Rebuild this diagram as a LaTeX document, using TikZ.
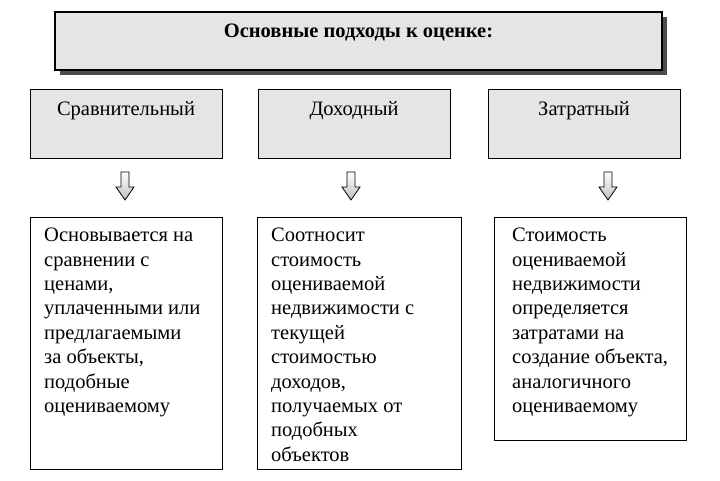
\documentclass[tikz,border=0pt]{standalone}
\usepackage{fontspec}
\setmainfont{Liberation Serif}
\begin{document}
\begin{tikzpicture}[x=1pt,y=-1pt,
  graybox/.style={draw=black,fill=black!10,line width=0.8pt},
  txtbox/.style={draw=black,line width=1pt},
  lbl/.style={font=\fontsize{20.5}{24}\selectfont},
  body/.style={font=\fontsize{20.5}{24.4}\selectfont,align=left,anchor=north west,inner sep=0pt}]
\useasboundingbox (0,0) rectangle (720,480);
% title
\fill[black!70] (60,17) rectangle (667,75);
\draw[graybox,line width=1.2pt] (55,12) rectangle (662,70);
\node[font=\bfseries\fontsize{20.5}{24}\selectfont] (title) at (358.5,32) {Основные подходы к оценке:};
% gray boxes
\foreach \n/\a/\b/\t in {g1/30/222/Сравнительный,g2/258/450/Доходный,g3/488/680/Затратный}{
  \draw[graybox] (\a,89) rectangle (\b,158);
  \node[lbl] (\n) at ({(\a+\b)/2},111) {\t};
}
% arrows
\foreach \n/\c in {a1/125,a2/351,a3/608}{
  \coordinate (\n) at (\c,172);
  \draw[line width=0.8pt,top color=white,bottom color=black!25]
    (\c-4,172) -- (\c+4,172) -- (\c+4,187) -- (\c+9,187) -- (\c,200) -- (\c-9,187) -- (\c-4,187) -- cycle;
}
% text boxes
\begin{scope}
\clip (257,217) rectangle (461,468);
\node[body] (t2) at (271,228) {Соотносит\\стоимость\\оцениваемой\\недвижимости с\\текущей\\стоимостью\\доходов,\\получаемых от\\подобных\\объектов};
\end{scope}
\draw[txtbox] (30,217) rectangle (222,469);
\draw[txtbox] (257,217) rectangle (461,469);
\draw[txtbox] (494,217) rectangle (686,440);
\node[body] (t1) at (44,228) {Основывается на\\сравнении с\\ценами,\\уплаченными или\\предлагаемыми\\за объекты,\\подобные\\оцениваемому};
\node[body] (t3) at (512,228) {Стоимость\\оцениваемой\\недвижимости\\определяется\\затратами на\\создание объекта,\\аналогичного\\оцениваемому};
\end{tikzpicture}
\end{document}
